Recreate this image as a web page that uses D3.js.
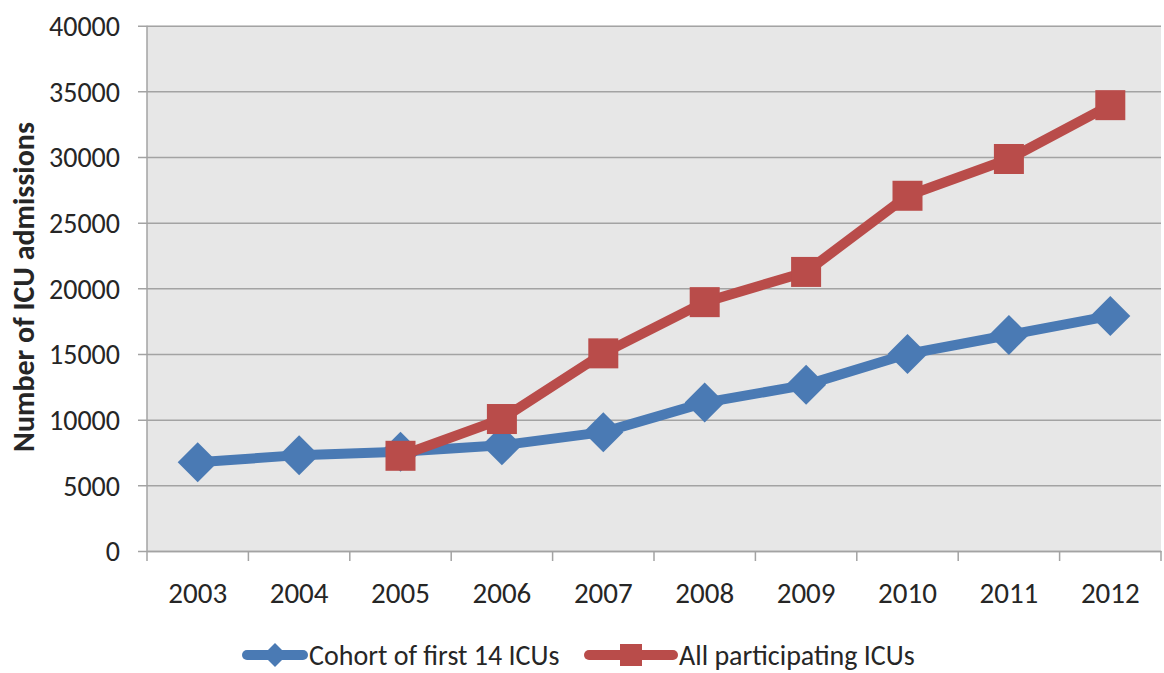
<!DOCTYPE html>
<html>
<head>
<meta charset="utf-8">
<script src="https://cdn.jsdelivr.net/npm/d3@7"></script>
<style>
  body { margin: 0; background: #fff; }
  text { font-family: Carlito, Lato, "Liberation Sans", sans-serif; fill: #262626; }
</style>
</head>
<body>
<div id="chart"></div>
<script>
var years = ["2003", "2004", "2005", "2006", "2007", "2008", "2009", "2010", "2011", "2012"];
var cohortValues = [6750, 7300, 7550, 8050, 9050, 11300, 12650, 15000, 16450, 17900];
var allValues = [null, null, 7250, 10050, 15050, 18950, 21250, 27050, 29850, 33950];
var yTicks = [0, 5000, 10000, 15000, 20000, 25000, 30000, 35000, 40000];
var seriesNames = ["Cohort of first 14 ICUs", "All participating ICUs"];
var seriesColors = ["#4a7ab4", "#b94c4a"];

var margin = {top: 25.7, right: 3, bottom: 122, left: 147},
    width = 1164 - margin.left - margin.right,
    height = 673 - margin.top - margin.bottom;

var svg = d3.select("#chart")
    .append("svg")
    .attr("width", 1164)
    .attr("height", 673)
    .append("g")
    .attr("transform", "translate(" + margin.left + "," + margin.top + ")");

var x = d3.scaleBand().domain(years).range([0, width]).padding(0);
var y = d3.scaleLinear().domain([0, 40000]).range([height, 0]);

// plot background
svg.append("rect")
    .attr("width", width)
    .attr("height", height)
    .attr("fill", "#e7e7e7");

// y axis with gridlines
var yAxis = svg.append("g")
    .call(d3.axisLeft(y).tickValues(yTicks).tickSize(-width - 9).tickFormat(d3.format("d")))
    .attr("transform", "translate(-9,0)");
yAxis.select(".domain").remove();
yAxis.selectAll("line").attr("x1", 0).attr("x2", width + 9).attr("stroke", "#a3a3a3").attr("stroke-width", 1.5);
yAxis.selectAll("text").style("font-size", "28px").attr("x", -18).attr("dy", "0.35em");

// left vertical axis line
svg.append("line")
    .attr("x1", 0).attr("x2", 0)
    .attr("y1", 0).attr("y2", height)
    .attr("stroke", "#a3a3a3").attr("stroke-width", 1.5);

// x axis
var xAxis = svg.append("g")
    .attr("transform", "translate(0," + height + ")")
    .call(d3.axisBottom(x).tickSize(0).tickPadding(31));
xAxis.select(".domain").attr("stroke", "#a3a3a3").attr("stroke-width", 1.5);
xAxis.selectAll("text").style("font-size", "29px").attr("dy", "0.71em");

// category boundary ticks
var bounds = years.map(function (d) { return x(d); }).concat([width]);
svg.selectAll(".xtick")
    .data(bounds)
    .enter()
    .append("line")
    .attr("x1", function (d) { return d; })
    .attr("x2", function (d) { return d; })
    .attr("y1", height)
    .attr("y2", height + 10)
    .attr("stroke", "#a3a3a3")
    .attr("stroke-width", 1.5);

// y axis title
svg.append("text")
    .attr("transform", "translate(" + (23 - margin.left) + "," + (287 - margin.top) + ") rotate(-90)")
    .attr("text-anchor", "middle")
    .attr("dy", "0.35em")
    .style("font-size", "30px")
    .style("font-weight", "bold")
    .text("Number of ICU admissions");

var line = d3.line()
    .defined(function (d) { return d != null; })
    .x(function (d, i) { return x(years[i]) + x.bandwidth() / 2; })
    .y(function (d) { return y(d); });

// cohort series
svg.append("path")
    .datum(cohortValues)
    .attr("fill", "none")
    .attr("stroke", seriesColors[0])
    .attr("stroke-width", 10)
    .attr("stroke-linejoin", "round")
    .attr("d", line);

var diamond = function (cx, cy, r) {
    return "M" + cx + "," + (cy - r) + "L" + (cx + r) + "," + cy + "L" + cx + "," + (cy + r) + "L" + (cx - r) + "," + cy + "Z";
};

svg.selectAll(".dia")
    .data(cohortValues)
    .enter()
    .append("path")
    .attr("fill", seriesColors[0])
    .attr("d", function (d, i) {
        return diamond(x(years[i]) + x.bandwidth() / 2, y(d), 20);
    });

// all ICUs series
svg.append("path")
    .datum(allValues)
    .attr("fill", "none")
    .attr("stroke", seriesColors[1])
    .attr("stroke-width", 10)
    .attr("stroke-linejoin", "round")
    .attr("d", line);

svg.selectAll(".sq")
    .data(allValues.map(function (v, i) { return {v: v, i: i}; }).filter(function (d) { return d.v != null; }))
    .enter()
    .append("rect")
    .attr("fill", seriesColors[1])
    .attr("x", function (d) { return x(years[d.i]) + x.bandwidth() / 2 - 15; })
    .attr("y", function (d) { return y(d.v) - 15; })
    .attr("width", 30)
    .attr("height", 30);

// legend
var legend = d3.select("svg").append("g");
var lx = [243, 585];
var lw = [64, 92];
seriesNames.forEach(function (name, k) {
    var cy = 655;
    legend.append("line")
        .attr("x1", lx[k] + 4).attr("x2", lx[k] + lw[k] - 4)
        .attr("y1", cy).attr("y2", cy)
        .attr("stroke", seriesColors[k])
        .attr("stroke-width", 10)
        .attr("stroke-linecap", "round");
    var mx = lx[k] + lw[k] / 2;
    if (k == 0) {
        legend.append("path").attr("fill", seriesColors[k]).attr("d", diamond(mx, cy, 12));
    } else {
        legend.append("rect").attr("fill", seriesColors[k])
            .attr("x", mx - 11).attr("y", cy - 11).attr("width", 22).attr("height", 22);
    }
    legend.append("text")
        .attr("x", lx[k] + lw[k] + 2)
        .attr("y", cy)
        .attr("dy", "0.35em")
        .style("font-size", "28px")
        .text(name);
});
</script>
</body>
</html>
